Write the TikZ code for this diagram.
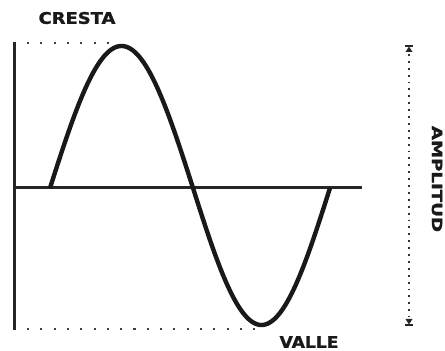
\documentclass[tikz,border=0pt]{standalone}
\usepackage{fontspec}
\setmainfont{DejaVu Sans}
\newfontfamily\heavyfont{DejaVu Sans Bold}[FakeBold=1.4]
\tikzset{
  lbl/.style={font=\heavyfont\fontsize{16}{16}\selectfont, inner sep=0pt, text=black!90},
  axis/.style={line width=3pt, black!85},
  wave/.style={line width=4.4pt, black!90, line join=round},
  dotline/.style={line width=2.1pt, black!75, dash pattern=on 2.1pt off 11.2pt},
  ampline/.style={line width=1.9pt, black!80, dash pattern=on 1.9pt off 5pt},
  capfill/.style={fill=black!85},
}
\begin{document}
\begin{tikzpicture}[x=1pt,y=1pt]
\useasboundingbox (0,0) rectangle (445,351);
% axes
\coordinate (yTop) at (14,309);
\coordinate (yBot) at (14,21);
\coordinate (xL) at (14,163);
\coordinate (xR) at (362,163);
\draw[axis] (yTop) -- (yBot);
\draw[axis] (xL) -- (xR);
% wave
\draw[wave] plot[domain=0:180, samples=80] ({50+\x/180*143},{163+142*sin(\x)})
  -- plot[domain=0:180, samples=80] ({193+\x/180*137},{163-137*sin(\x)});
% dotted guide lines
\coordinate (crA) at (27,308);
\coordinate (crB) at (120,308);
\coordinate (vaA) at (27,22);
\coordinate (vaB) at (258,22);
\draw[dotline] (crA) -- (crB);
\draw[dotline] (vaA) -- (vaB);
% amplitude
\coordinate (ampTop) at (409,306);
\coordinate (ampBot) at (409,25);
\draw[ampline] ([yshift=-9pt]ampTop) -- ([yshift=9pt]ampBot);
\fill[capfill] ([xshift=-4pt]ampTop) rectangle ([xshift=4pt,yshift=-2.4pt]ampTop);
\fill[capfill] ([yshift=-1.5pt]ampTop) -- ([xshift=-3.5pt,yshift=-7pt]ampTop) -- ([xshift=3.5pt,yshift=-7pt]ampTop) -- cycle;
\fill[capfill] ([xshift=-4pt]ampBot) rectangle ([xshift=4pt,yshift=2.4pt]ampBot);
\fill[capfill] ([yshift=1.5pt]ampBot) -- ([xshift=-3.5pt,yshift=7pt]ampBot) -- ([xshift=3.5pt,yshift=7pt]ampBot) -- cycle;
% labels
\node[lbl, xscale=1.12] (cresta) at (77,333) {CRESTA};
\node[lbl, xscale=1.07] (valle) at (309,9) {VALLE};
\node[lbl, rotate=-90, xscale=1.3, font=\heavyfont\fontsize{14}{14}\selectfont] (amp) at (437,172) {AMPLITUD};
\end{tikzpicture}
\end{document}
